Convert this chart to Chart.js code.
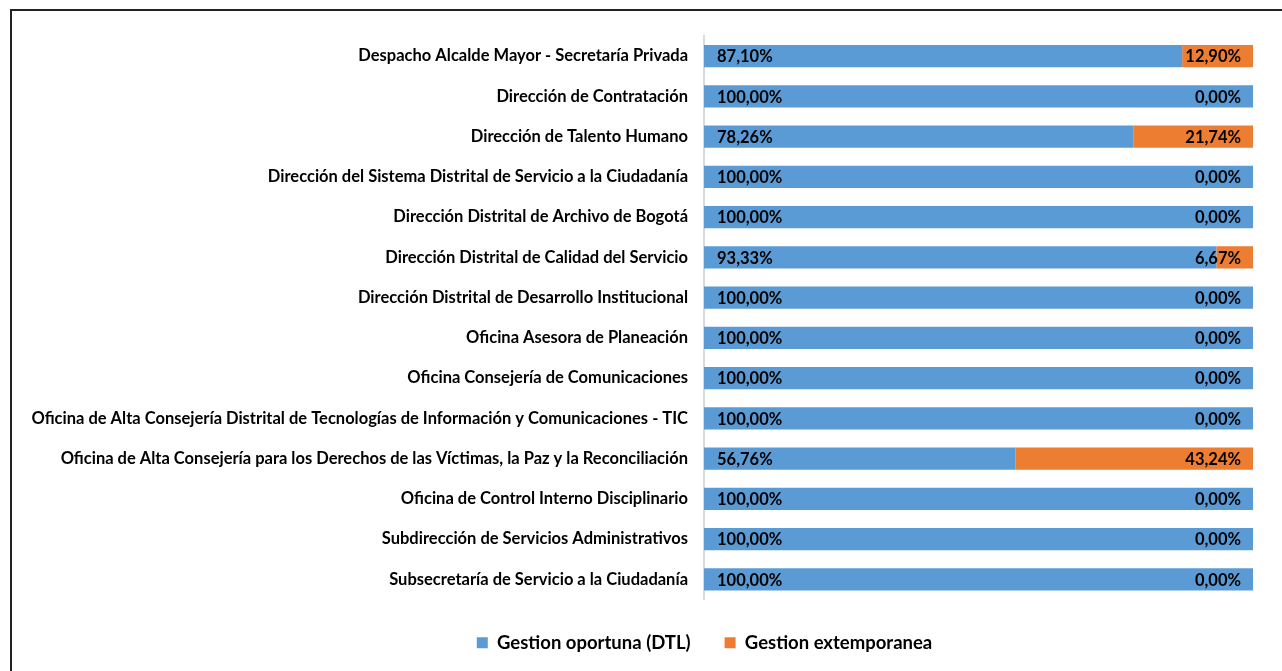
<!DOCTYPE html>
<html>
<head>
<meta charset="utf-8">
<script src="https://cdn.jsdelivr.net/npm/chart.js@4.4.1/dist/chart.umd.min.js"></script>
<style>
  html, body { margin: 0; padding: 0; background: #fff; }
  #wrap { position: relative; width: 1282px; height: 671px; }
  #frame { position: absolute; left: 10px; top: 9px; right: -5px; bottom: -5px; border: 2px solid #222; }
  canvas { position: absolute; left: 0; top: 0; }
</style>
</head>
<body>
<div id="wrap">
  <div id="frame"></div>
  <canvas id="barChart" width="1282" height="671"></canvas>
</div>
<script>
const categories = [
  "Despacho Alcalde Mayor - Secretaría Privada",
  "Dirección de Contratación",
  "Dirección de Talento Humano",
  "Dirección del Sistema Distrital de Servicio a la Ciudadanía",
  "Dirección Distrital de Archivo de Bogotá",
  "Dirección Distrital de Calidad del Servicio",
  "Dirección Distrital de Desarrollo Institucional",
  "Oficina Asesora de Planeación",
  "Oficina Consejería de Comunicaciones",
  "Oficina de Alta Consejería Distrital de Tecnologías de Información y Comunicaciones - TIC",
  "Oficina de Alta Consejería para los Derechos de las Víctimas, la Paz y la Reconciliación",
  "Oficina de Control Interno Disciplinario",
  "Subdirección de Servicios Administrativos",
  "Subsecretaría de Servicio a la Ciudadanía"
];
const oportuna = [87.10, 100, 78.26, 100, 100, 93.33, 100, 100, 100, 100, 56.76, 100, 100, 100];
const extemporanea = [12.90, 0, 21.74, 0, 0, 6.67, 0, 0, 0, 0, 43.24, 0, 0, 0];

const FONT = "Lato, 'Open Sans', sans-serif";

function pct(v) {
  return v.toFixed(2).replace(".", ",") + "%";
}

// etiquetas de valor: azul al inicio, naranja al final de la barra
const valueLabels = {
  id: "valueLabels",
  afterDatasetsDraw(chart) {
    const c = chart.ctx;
    c.save();
    c.font = "bold 16.5px " + FONT;
    c.fillStyle = "#000";
    c.textBaseline = "middle";
    const m0 = chart.getDatasetMeta(0);
    const m1 = chart.getDatasetMeta(1);
    m0.data.forEach((bar, i) => {
      c.textAlign = "left";
      c.fillText(pct(oportuna[i]), bar.base + 13, bar.y + 1);
      const b1 = m1.data[i];
      c.textAlign = "right";
      c.fillText(pct(extemporanea[i]), b1.x - 12, b1.y + 1);
    });
    c.restore();
  }
};

// la leyenda va centrada un poco a la derecha, como en el original
const legendShift = {
  id: "legendShift",
  afterLayout(chart) {
    chart.legend.left += 78;
    chart.legend.right += 78;
  }
};

const ctx = document.getElementById("barChart").getContext("2d");
const barChart = new Chart(ctx, {
  type: "bar",
  data: {
    labels: categories,
    datasets: [{
      label: "Gestion oportuna (DTL)",
      data: oportuna,
      backgroundColor: "#5B9BD5",
      barPercentage: 0.55,
      categoryPercentage: 1
    }, {
      label: "Gestion extemporanea",
      data: extemporanea,
      backgroundColor: "#ED7D31",
      barPercentage: 0.55,
      categoryPercentage: 1
    }]
  },
  plugins: [valueLabels, legendShift],
  options: {
    indexAxis: "y",
    responsive: false,
    animation: false,
    layout: { padding: { top: 36, right: 29, bottom: 9, left: 0 } },
    scales: {
      x: {
        stacked: true,
        min: 0,
        max: 100,
        grid: { display: false },
        border: { display: false },
        ticks: { display: false },
        afterFit: (s) => { s.height = 0; }
      },
      y: {
        stacked: true,
        grid: { display: false, drawTicks: false },
        border: { color: "#d9d9d9", width: 2 },
        ticks: {
          color: "#000",
          padding: 16,
          font: { family: FONT, size: 16.5, weight: "bold" }
        },
        afterFit: (s) => { s.width = 704; }
      }
    },
    plugins: {
      tooltip: { enabled: false },
      legend: {
        position: "bottom",
        labels: {
          color: "#000",
          boxWidth: 11,
          boxHeight: 11,
          padding: 34,
          font: { family: FONT, size: 18.5, weight: "bold" }
        }
      }
    }
  }
});
</script>
</body>
</html>
